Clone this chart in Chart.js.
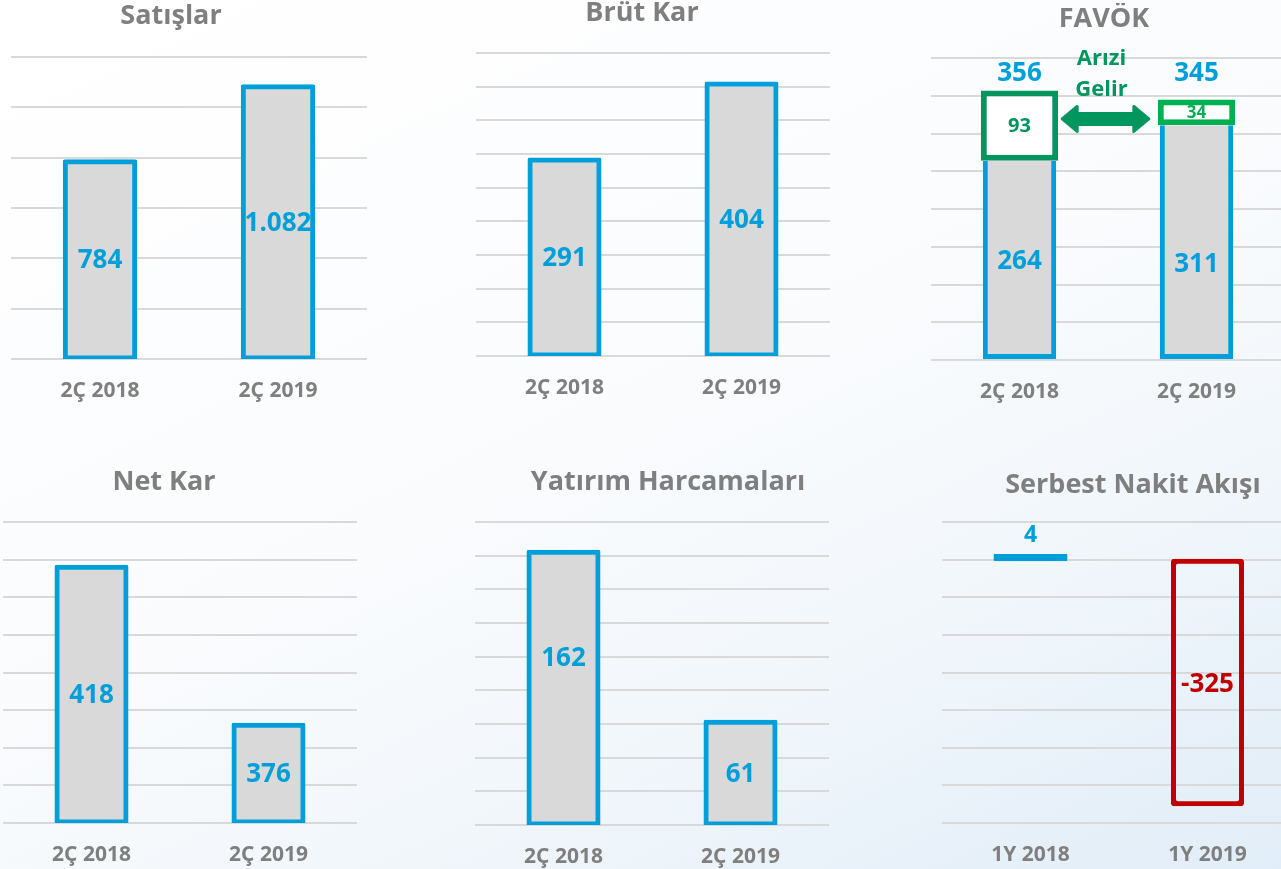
<!DOCTYPE html>
<html>
<head>
<meta charset="utf-8">
<script src="https://cdn.jsdelivr.net/npm/chart.js@4.4.1/dist/chart.umd.min.js"></script>
<style>
html,body{margin:0;padding:0;width:1281px;height:869px;overflow:hidden;}
body{position:relative;background:linear-gradient(155deg,#ffffff 0%,#fbfcfe 45%,#f2f7fb 70%,#e1edf8 100%);}
.p{position:absolute;}
.p canvas{display:block;}
</style>
</head>
<body>
<div class="p" id="w1"><canvas id="c1"></canvas></div>
<div class="p" id="w2"><canvas id="c2"></canvas></div>
<div class="p" id="w3"><canvas id="c3"></canvas></div>
<div class="p" id="w4"><canvas id="c4"></canvas></div>
<div class="p" id="w5"><canvas id="c5"></canvas></div>
<div class="p" id="w6"><canvas id="c6"></canvas></div>
<script>
// ---------------- DATA ----------------
const quarterLabels = ['2Ç 2018', '2Ç 2019'];
const halfLabels = ['1Y 2018', '1Y 2019'];
const panelTitles = ['Satışlar', 'Brüt Kar', 'FAVÖK', 'Net Kar', 'Yatırım Harcamaları', 'Serbest Nakit Akışı'];
const salesValues = [784, 1082];
const grossProfitValues = [291, 404];
const ebitdaCoreValues = [264, 311];
const ebitdaOneOffValues = [93, 34];
const ebitdaTotalValues = [356, 345];
const netProfitValues = [418, 376];
const capexValues = [162, 61];
const freeCashFlowValues = [4, -325];
const oneOffText = ['Arızi', 'Gelir'];
// value-axis ranges [min, max, step]
const salesRange = [0, 1200, 200];
const grossRange = [0, 450, 50];
const ebitdaRange = [0, 400, 50];
const netRange = [350, 430, 10];
const capexRange = [0, 180, 20];
const fcfRange = [-350, 50, 50];

// ---------------- STYLE ----------------
const FONT = "'Open Sans', 'DejaVu Sans', sans-serif";
const BLUE = '#009fda';
const FILL = '#d9d9d9';
const GREY = '#7f7f7f';
const GRID = '#d9d9d9';
const RED = '#c00000';
const DGREEN = '#00965e';
const LGREEN = '#00b050';
Chart.defaults.font.family = FONT;

function fmt(v) {
  const s = Math.abs(v).toString().replace(/\B(?=(\d{3})+(?!\d))/g, '.');
  return (v < 0 ? '-' : '') + s;
}
function txt(ctx, s, x, y, color, size) {
  ctx.save();
  ctx.font = 'bold ' + size + 'px ' + FONT;
  ctx.fillStyle = color;
  ctx.textAlign = 'center';
  ctx.textBaseline = 'middle';
  ctx.fillText(s, x, y);
  ctx.restore();
}

function makePanel(n, g, title, labels, datasets, range, drawLabels, stacked) {
  const titleSize = 27, titleLH = titleSize * 1.2;
  const tickSize = 21, tickPad = 19;
  const mid = (g.l + g.r) / 2, shift = g.tcx - mid;
  const axisW = Math.abs(2 * shift);
  const axisPos = shift < 0 ? 'left' : 'right';
  const left = shift < 0 ? g.l - axisW : g.l;
  const width = (shift < 0 ? g.r : g.r + axisW) - left;
  const top = Math.round(g.tcy - titleLH / 2);
  const titlePadB = g.t - top - titleLH;
  const height = g.b - top + 2 * tickPad + tickSize * 1.2;
  const w = document.getElementById('w' + n);
  w.style.left = left + 'px';
  w.style.top = top + 'px';
  w.style.width = width + 'px';
  w.style.height = height + 'px';
  return new Chart(document.getElementById('c' + n), {
    type: 'bar',
    data: { labels: labels, datasets: datasets },
    options: {
      responsive: true,
      maintainAspectRatio: false,
      animation: false,
      layout: { padding: 0 },
      plugins: {
        legend: { display: false },
        tooltip: { enabled: false },
        title: {
          display: true, text: title, color: GREY,
          font: { family: FONT, size: titleSize, weight: 'bold', lineHeight: 1.2 },
          padding: { top: 0, bottom: titlePadB }
        }
      },
      scales: {
        x: {
          stacked: !!stacked,
          grid: { display: false, drawTicks: false },
          border: { display: false },
          ticks: { color: GREY, padding: tickPad, font: { family: FONT, size: tickSize, weight: 'bold' } }
        },
        y: {
          stacked: !!stacked,
          position: axisPos,
          min: range[0], max: range[1],
          ticks: { display: false, stepSize: range[2] },
          grid: { color: GRID, lineWidth: 2, drawTicks: false },
          border: { display: false },
          afterFit: function (s) { s.width = axisW; }
        }
      }
    },
    plugins: [{ id: 'vlabels', afterDatasetsDraw: function (chart) { drawLabels(chart); } }]
  });
}

function simpleBar(values, base) {
  const ds = {
    data: values, backgroundColor: FILL, borderColor: BLUE, borderWidth: 5, inflateAmount: 2.5,
    borderSkipped: false, borderRadius: 2, categoryPercentage: 1, barPercentage: 0.39
  };
  if (base !== undefined) ds.base = base;
  return ds;
}
function centerLabels(values, anchors) {
  return function (chart) {
    const meta = chart.getDatasetMeta(0);
    const ys = chart.scales.y;
    meta.data.forEach(function (b, i) {
      const y = (anchors && anchors[i] != null) ? ys.getPixelForValue(anchors[i]) : (b.y + b.base) / 2 + 1;
      txt(chart.ctx, fmt(values[i]), b.x, y, BLUE, 26);
    });
  };
}

// 1 Satışlar
makePanel(1, { l: 11, r: 367, t: 57, b: 359, tcx: 171, tcy: 16 }, panelTitles[0], quarterLabels,
  [simpleBar(salesValues)], salesRange, centerLabels(salesValues));

// 2 Brüt Kar
makePanel(2, { l: 476, r: 830, t: 53, b: 356, tcx: 642, tcy: 13 }, panelTitles[1], quarterLabels,
  [simpleBar(grossProfitValues)], grossRange, centerLabels(grossProfitValues));

// 3 FAVÖK (stacked)
makePanel(3, { l: 931, r: 1285, t: 58, b: 360, tcx: 1104, tcy: 19 }, panelTitles[2], quarterLabels, [
  { data: ebitdaCoreValues, backgroundColor: FILL, borderColor: BLUE, borderWidth: 5, borderSkipped: 'top',
    categoryPercentage: 1, barPercentage: 0.414 },
  { data: ebitdaOneOffValues, backgroundColor: '#ffffff', borderColor: [DGREEN, LGREEN], borderWidth: 6,
    borderSkipped: false, categoryPercentage: 1, barPercentage: 0.437 }
], ebitdaRange, function (chart) {
  const ctx = chart.ctx, ys = chart.scales.y, ca = chart.chartArea;
  const m0 = chart.getDatasetMeta(0), m1 = chart.getDatasetMeta(1);
  const lowAnchor = [130, 126];
  m0.data.forEach(function (b, i) {
    txt(ctx, fmt(ebitdaCoreValues[i]), b.x, ys.getPixelForValue(lowAnchor[i]), BLUE, 26);
    txt(ctx, fmt(ebitdaTotalValues[i]), b.x, ca.top + 16, BLUE, 26);
  });
  const gcol = [DGREEN, LGREEN], gsize = [20, 17];
  m1.data.forEach(function (b, i) {
    txt(ctx, fmt(ebitdaOneOffValues[i]), b.x, (b.y + b.base) / 2 + 1, gcol[i], gsize[i]);
  });
  const g0 = m1.data[0], g1 = m1.data[1];
  const x1 = g0.x + g0.width / 2 + 4, x2 = g1.x - g1.width / 2 - 9;
  const y = ((g0.y + g0.base) / 2 + (g1.y + g1.base) / 2) / 2;
  const shaftH = 11, headH = 25, headL = 15;
  ctx.save();
  ctx.beginPath();
  ctx.moveTo(x1, y);
  ctx.lineTo(x1 + headL, y - headH / 2);
  ctx.lineTo(x1 + headL, y - shaftH / 2);
  ctx.lineTo(x2 - headL, y - shaftH / 2);
  ctx.lineTo(x2 - headL, y - headH / 2);
  ctx.lineTo(x2, y);
  ctx.lineTo(x2 - headL, y + headH / 2);
  ctx.lineTo(x2 - headL, y + shaftH / 2);
  ctx.lineTo(x1 + headL, y + shaftH / 2);
  ctx.lineTo(x1 + headL, y + headH / 2);
  ctx.closePath();
  ctx.fillStyle = DGREEN; ctx.strokeStyle = DGREEN; ctx.lineWidth = 3; ctx.lineJoin = 'round';
  ctx.fill(); ctx.stroke();
  ctx.restore();
  const tx = (x1 + x2) / 2 - 4;
  txt(ctx, oneOffText[0], tx, ca.top + 1, DGREEN, 22);
  txt(ctx, oneOffText[1], tx, ca.top + 32, DGREEN, 22);
}, true);

// 4 Net Kar
makePanel(4, { l: 3, r: 357, t: 522, b: 823, tcx: 164, tcy: 482 }, panelTitles[3], quarterLabels,
  [simpleBar(netProfitValues, netRange[0])], netRange, centerLabels(netProfitValues));

// 5 Yatırım Harcamaları
makePanel(5, { l: 475, r: 829, t: 522, b: 825, tcx: 668, tcy: 482 }, panelTitles[4], quarterLabels,
  [simpleBar(capexValues)], capexRange, centerLabels(capexValues, [99, null]));

// 6 Serbest Nakit Akışı
makePanel(6, { l: 942, r: 1296, t: 522, b: 823, tcx: 1133, tcy: 485 }, panelTitles[5], halfLabels, [
  { data: freeCashFlowValues, backgroundColor: [BLUE, 'rgba(0,0,0,0)'], borderColor: [BLUE, RED],
    borderWidth: [5, 1], inflateAmount: [2.5, 2],
    borderSkipped: false, borderRadius: 3, categoryPercentage: 1, barPercentage: 0.39 }
], fcfRange, function (chart) {
  const meta = chart.getDatasetMeta(0);
  const b0 = meta.data[0], b1 = meta.data[1];
  txt(chart.ctx, fmt(freeCashFlowValues[0]), b0.x, Math.min(b0.y, b0.base) - 21, BLUE, 23);
  txt(chart.ctx, fmt(freeCashFlowValues[1]), b1.x, (b1.y + b1.base) / 2 + 2, RED, 26);
});
</script>
</body>
</html>
